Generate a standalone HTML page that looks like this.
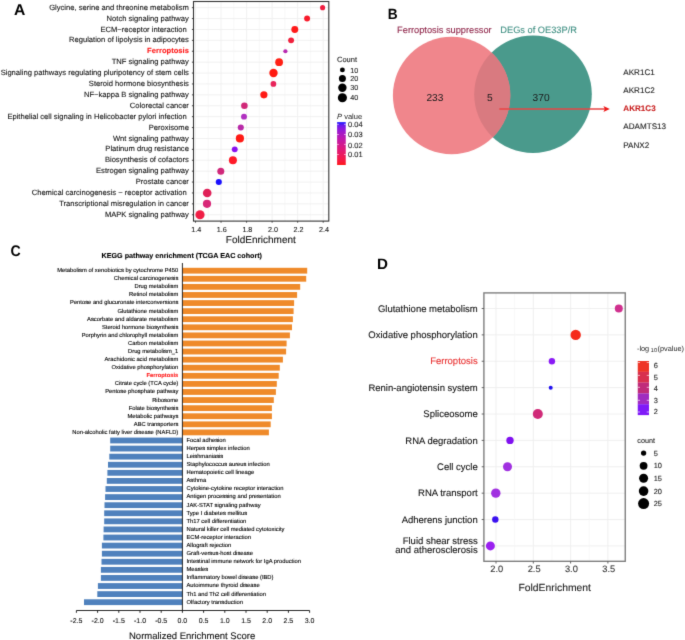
<!DOCTYPE html><html><head><meta charset="utf-8"><style>html,body{margin:0;padding:0;background:#fff;} svg{display:block;will-change:transform;} text{font-family:"Liberation Sans", sans-serif;text-rendering:geometricPrecision;}</style></head><body>
<svg width="685" height="640" viewBox="0 0 685 640">
<rect width="685" height="640" fill="#fff"/>
<defs><filter id="bl" x="0" y="0" width="685" height="640" filterUnits="userSpaceOnUse" color-interpolation-filters="sRGB"><feConvolveMatrix order="3" kernelMatrix="0.0113 0.0838 0.0113 0.0838 0.6193 0.0838 0.0113 0.0838 0.0113" edgeMode="duplicate" preserveAlpha="false"/></filter></defs><g filter="url(#bl)">
<g stroke="#EFEFEF" stroke-width="0.9">
<line x1="195.50" y1="1.5" x2="195.50" y2="221.1"/>
<line x1="221.04" y1="1.5" x2="221.04" y2="221.1"/>
<line x1="246.58" y1="1.5" x2="246.58" y2="221.1"/>
<line x1="272.12" y1="1.5" x2="272.12" y2="221.1"/>
<line x1="297.66" y1="1.5" x2="297.66" y2="221.1"/>
<line x1="323.20" y1="1.5" x2="323.20" y2="221.1"/>
</g><g stroke="#F4F4F4" stroke-width="0.6">
<line x1="208.27" y1="1.5" x2="208.27" y2="221.1"/>
<line x1="233.81" y1="1.5" x2="233.81" y2="221.1"/>
<line x1="259.35" y1="1.5" x2="259.35" y2="221.1"/>
<line x1="284.89" y1="1.5" x2="284.89" y2="221.1"/>
<line x1="310.43" y1="1.5" x2="310.43" y2="221.1"/>
</g><g stroke="#EFEFEF" stroke-width="0.9">
<line x1="193.5" y1="7.66" x2="328.8" y2="7.66"/>
<line x1="193.5" y1="18.56" x2="328.8" y2="18.56"/>
<line x1="193.5" y1="29.46" x2="328.8" y2="29.46"/>
<line x1="193.5" y1="40.36" x2="328.8" y2="40.36"/>
<line x1="193.5" y1="51.26" x2="328.8" y2="51.26"/>
<line x1="193.5" y1="62.16" x2="328.8" y2="62.16"/>
<line x1="193.5" y1="73.06" x2="328.8" y2="73.06"/>
<line x1="193.5" y1="83.96" x2="328.8" y2="83.96"/>
<line x1="193.5" y1="94.86" x2="328.8" y2="94.86"/>
<line x1="193.5" y1="105.76" x2="328.8" y2="105.76"/>
<line x1="193.5" y1="116.66" x2="328.8" y2="116.66"/>
<line x1="193.5" y1="127.56" x2="328.8" y2="127.56"/>
<line x1="193.5" y1="138.46" x2="328.8" y2="138.46"/>
<line x1="193.5" y1="149.36" x2="328.8" y2="149.36"/>
<line x1="193.5" y1="160.26" x2="328.8" y2="160.26"/>
<line x1="193.5" y1="171.16" x2="328.8" y2="171.16"/>
<line x1="193.5" y1="182.06" x2="328.8" y2="182.06"/>
<line x1="193.5" y1="192.96" x2="328.8" y2="192.96"/>
<line x1="193.5" y1="203.86" x2="328.8" y2="203.86"/>
<line x1="193.5" y1="214.76" x2="328.8" y2="214.76"/>
</g>
<circle cx="322.6" cy="7.66" r="2.55" fill="#F01E40"/>
<circle cx="307.1" cy="18.56" r="2.96" fill="#F81A2A"/>
<circle cx="294.8" cy="29.46" r="3.47" fill="#FF1A1A"/>
<circle cx="291.1" cy="40.36" r="2.96" fill="#F0203C"/>
<circle cx="285.4" cy="51.26" r="2.1" fill="#B828B0"/>
<circle cx="279.1" cy="62.16" r="3.9" fill="#FF2015"/>
<circle cx="273.5" cy="73.06" r="4.2" fill="#FF1A10"/>
<circle cx="273.4" cy="83.96" r="2.85" fill="#E8245A"/>
<circle cx="263.9" cy="94.86" r="3.6" fill="#FF1A15"/>
<circle cx="244.4" cy="105.76" r="3.28" fill="#D02878"/>
<circle cx="244.0" cy="116.66" r="2.95" fill="#B030C0"/>
<circle cx="240.8" cy="127.56" r="3.06" fill="#B82AA8"/>
<circle cx="239.9" cy="138.46" r="4.1" fill="#FF1A15"/>
<circle cx="234.75" cy="149.36" r="2.95" fill="#8A10F0"/>
<circle cx="232.9" cy="160.26" r="4.0" fill="#FF1A28"/>
<circle cx="220.8" cy="171.16" r="3.5" fill="#D0287A"/>
<circle cx="218.8" cy="182.06" r="3.05" fill="#1A10FF"/>
<circle cx="207.2" cy="192.96" r="4.3" fill="#E02058"/>
<circle cx="207.0" cy="203.86" r="4.1" fill="#D82878"/>
<circle cx="200.0" cy="214.76" r="4.6" fill="#F01E45"/>
<rect x="193.5" y="1.5" width="135.30" height="219.60" fill="none" stroke="#333" stroke-width="1.1"/>
<g stroke="#333" stroke-width="0.9">
<line x1="191.90" y1="7.66" x2="193.5" y2="7.66"/>
<line x1="191.90" y1="18.56" x2="193.5" y2="18.56"/>
<line x1="191.90" y1="29.46" x2="193.5" y2="29.46"/>
<line x1="191.90" y1="40.36" x2="193.5" y2="40.36"/>
<line x1="191.90" y1="51.26" x2="193.5" y2="51.26"/>
<line x1="191.90" y1="62.16" x2="193.5" y2="62.16"/>
<line x1="191.90" y1="73.06" x2="193.5" y2="73.06"/>
<line x1="191.90" y1="83.96" x2="193.5" y2="83.96"/>
<line x1="191.90" y1="94.86" x2="193.5" y2="94.86"/>
<line x1="191.90" y1="105.76" x2="193.5" y2="105.76"/>
<line x1="191.90" y1="116.66" x2="193.5" y2="116.66"/>
<line x1="191.90" y1="127.56" x2="193.5" y2="127.56"/>
<line x1="191.90" y1="138.46" x2="193.5" y2="138.46"/>
<line x1="191.90" y1="149.36" x2="193.5" y2="149.36"/>
<line x1="191.90" y1="160.26" x2="193.5" y2="160.26"/>
<line x1="191.90" y1="171.16" x2="193.5" y2="171.16"/>
<line x1="191.90" y1="182.06" x2="193.5" y2="182.06"/>
<line x1="191.90" y1="192.96" x2="193.5" y2="192.96"/>
<line x1="191.90" y1="203.86" x2="193.5" y2="203.86"/>
<line x1="191.90" y1="214.76" x2="193.5" y2="214.76"/>
<line x1="195.50" y1="221.1" x2="195.50" y2="222.7"/>
<line x1="221.04" y1="221.1" x2="221.04" y2="222.7"/>
<line x1="246.58" y1="221.1" x2="246.58" y2="222.7"/>
<line x1="272.12" y1="221.1" x2="272.12" y2="222.7"/>
<line x1="297.66" y1="221.1" x2="297.66" y2="222.7"/>
<line x1="323.20" y1="221.1" x2="323.20" y2="222.7"/>
</g>
<text x="188.90" y="9.76" font-size="7.6" text-anchor="end" fill="#111" font-weight="normal"  stroke="#111" stroke-width="0.1">Glycine, serine and threonine metabolism</text>
<text x="188.90" y="20.66" font-size="7.6" text-anchor="end" fill="#111" font-weight="normal"  stroke="#111" stroke-width="0.1">Notch signaling pathway</text>
<text x="186.80" y="31.56" font-size="7.6" text-anchor="end" fill="#111" font-weight="normal"  stroke="#111" stroke-width="0.1">ECM−receptor interaction</text>
<text x="188.90" y="42.46" font-size="7.6" text-anchor="end" fill="#111" font-weight="normal"  stroke="#111" stroke-width="0.1">Regulation of lipolysis in adipocytes</text>
<text x="188.90" y="53.36" font-size="7.6" text-anchor="end" fill="#FF1A1A" font-weight="bold"  stroke="#FF1A1A" stroke-width="0.1">Ferroptosis</text>
<text x="188.90" y="64.26" font-size="7.6" text-anchor="end" fill="#111" font-weight="normal"  stroke="#111" stroke-width="0.1">TNF signaling pathway</text>
<text x="188.90" y="75.16" font-size="7.6" text-anchor="end" fill="#111" font-weight="normal"  stroke="#111" stroke-width="0.1">Signaling pathways regulating pluripotency of stem cells</text>
<text x="188.90" y="86.06" font-size="7.6" text-anchor="end" fill="#111" font-weight="normal"  stroke="#111" stroke-width="0.1">Steroid hormone biosynthesis</text>
<text x="188.90" y="96.96" font-size="7.6" text-anchor="end" fill="#111" font-weight="normal"  stroke="#111" stroke-width="0.1">NF−kappa B signaling pathway</text>
<text x="188.90" y="107.86" font-size="7.6" text-anchor="end" fill="#111" font-weight="normal"  stroke="#111" stroke-width="0.1">Colorectal cancer</text>
<text x="186.80" y="118.76" font-size="7.6" text-anchor="end" fill="#111" font-weight="normal"  stroke="#111" stroke-width="0.1">Epithelial cell signaling in Helicobacter pylori infection</text>
<text x="188.90" y="129.66" font-size="7.6" text-anchor="end" fill="#111" font-weight="normal"  stroke="#111" stroke-width="0.1">Peroxisome</text>
<text x="188.90" y="140.56" font-size="7.6" text-anchor="end" fill="#111" font-weight="normal"  stroke="#111" stroke-width="0.1">Wnt signaling pathway</text>
<text x="188.90" y="151.46" font-size="7.6" text-anchor="end" fill="#111" font-weight="normal"  stroke="#111" stroke-width="0.1">Platinum drug resistance</text>
<text x="188.90" y="162.36" font-size="7.6" text-anchor="end" fill="#111" font-weight="normal"  stroke="#111" stroke-width="0.1">Biosynthesis of cofactors</text>
<text x="188.90" y="173.26" font-size="7.6" text-anchor="end" fill="#111" font-weight="normal"  stroke="#111" stroke-width="0.1">Estrogen signaling pathway</text>
<text x="188.90" y="184.16" font-size="7.6" text-anchor="end" fill="#111" font-weight="normal"  stroke="#111" stroke-width="0.1">Prostate cancer</text>
<text x="186.80" y="195.06" font-size="7.6" text-anchor="end" fill="#111" font-weight="normal"  stroke="#111" stroke-width="0.1">Chemical carcinogenesis − receptor activation</text>
<text x="188.90" y="205.96" font-size="7.6" text-anchor="end" fill="#111" font-weight="normal"  stroke="#111" stroke-width="0.1">Transcriptional misregulation in cancer</text>
<text x="188.90" y="216.86" font-size="7.6" text-anchor="end" fill="#111" font-weight="normal"  stroke="#111" stroke-width="0.1">MAPK signaling pathway</text>
<text x="196.30" y="231.50" font-size="7.2" text-anchor="middle" fill="#1a1a1a" font-weight="normal"  stroke="#1a1a1a" stroke-width="0.1">1.4</text>
<text x="221.84" y="231.50" font-size="7.2" text-anchor="middle" fill="#1a1a1a" font-weight="normal"  stroke="#1a1a1a" stroke-width="0.1">1.6</text>
<text x="247.38" y="231.50" font-size="7.2" text-anchor="middle" fill="#1a1a1a" font-weight="normal"  stroke="#1a1a1a" stroke-width="0.1">1.8</text>
<text x="272.92" y="231.50" font-size="7.2" text-anchor="middle" fill="#1a1a1a" font-weight="normal"  stroke="#1a1a1a" stroke-width="0.1">2.0</text>
<text x="298.46" y="231.50" font-size="7.2" text-anchor="middle" fill="#1a1a1a" font-weight="normal"  stroke="#1a1a1a" stroke-width="0.1">2.2</text>
<text x="324.00" y="231.50" font-size="7.2" text-anchor="middle" fill="#1a1a1a" font-weight="normal"  stroke="#1a1a1a" stroke-width="0.1">2.4</text>
<text x="260.80" y="242.70" font-size="10" text-anchor="middle" fill="#111" font-weight="normal"  stroke="#111" stroke-width="0.1">FoldEnrichment</text>
<text transform="translate(14.0,14.5) scale(1.12,1.105)" font-size="14" font-weight="bold" fill="#000">A</text>
<text x="337.00" y="62.20" font-size="7.5" text-anchor="start" fill="#222" font-weight="normal"  stroke="#222" stroke-width="0.1">Count</text>
<circle cx="342.4" cy="69.9" r="2.44" fill="#000"/>
<text x="350.20" y="72.50" font-size="7.2" text-anchor="start" fill="#222" font-weight="normal"  stroke="#222" stroke-width="0.1">10</text>
<circle cx="342.4" cy="78.6" r="3.5" fill="#000"/>
<text x="350.20" y="81.20" font-size="7.2" text-anchor="start" fill="#222" font-weight="normal"  stroke="#222" stroke-width="0.1">20</text>
<circle cx="342.4" cy="87.8" r="4.2" fill="#000"/>
<text x="350.20" y="90.40" font-size="7.2" text-anchor="start" fill="#222" font-weight="normal"  stroke="#222" stroke-width="0.1">30</text>
<circle cx="342.4" cy="97.8" r="4.55" fill="#000"/>
<text x="350.20" y="100.40" font-size="7.2" text-anchor="start" fill="#222" font-weight="normal"  stroke="#222" stroke-width="0.1">40</text>
<text x="337.1" y="118.5" font-size="7.5" fill="#222"><tspan font-style="italic">P</tspan> value</text>
<defs><linearGradient id="gA" x1="0" y1="0" x2="0" y2="1"><stop offset="0.000" stop-color="#1919FE"/><stop offset="0.083" stop-color="#6F19EC"/><stop offset="0.167" stop-color="#8E19DA"/><stop offset="0.250" stop-color="#A419C8"/><stop offset="0.333" stop-color="#B519B6"/><stop offset="0.417" stop-color="#C319A5"/><stop offset="0.500" stop-color="#CE1994"/><stop offset="0.583" stop-color="#D91983"/><stop offset="0.667" stop-color="#E21972"/><stop offset="0.750" stop-color="#EA1961"/><stop offset="0.833" stop-color="#F1194F"/><stop offset="0.917" stop-color="#F8193B"/><stop offset="1.000" stop-color="#FE1919"/></linearGradient></defs>
<rect x="337.1" y="122.1" width="8.65" height="42.9" fill="url(#gA)"/>
<g stroke="#fff" stroke-width="0.7" opacity="0.9">
<line x1="337.1" y1="124.3" x2="338.8" y2="124.3"/><line x1="344.05" y1="124.3" x2="345.75" y2="124.3"/>
<line x1="337.1" y1="134.5" x2="338.8" y2="134.5"/><line x1="344.05" y1="134.5" x2="345.75" y2="134.5"/>
<line x1="337.1" y1="144.4" x2="338.8" y2="144.4"/><line x1="344.05" y1="144.4" x2="345.75" y2="144.4"/>
<line x1="337.1" y1="154.5" x2="338.8" y2="154.5"/><line x1="344.05" y1="154.5" x2="345.75" y2="154.5"/>
</g>
<text x="348.10" y="127.20" font-size="7.5" text-anchor="start" fill="#222" font-weight="normal"  stroke="#222" stroke-width="0.1">0.04</text>
<text x="348.10" y="137.30" font-size="7.5" text-anchor="start" fill="#222" font-weight="normal"  stroke="#222" stroke-width="0.1">0.03</text>
<text x="348.10" y="147.50" font-size="7.5" text-anchor="start" fill="#222" font-weight="normal"  stroke="#222" stroke-width="0.1">0.02</text>
<text x="348.10" y="157.30" font-size="7.5" text-anchor="start" fill="#222" font-weight="normal"  stroke="#222" stroke-width="0.1">0.01</text>
<text transform="translate(387.8,19.2) scale(0.98,1.06)" font-size="14" font-weight="bold" fill="#000">B</text>
<defs><clipPath id="cR"><circle cx="533.0" cy="94.3" r="58.8"/></clipPath></defs>
<circle cx="533.0" cy="94.3" r="58.8" fill="#4A9A8C"/>
<circle cx="451.6" cy="95.5" r="58.7" fill="#F0868C"/>
<circle cx="451.6" cy="95.5" r="58.7" fill="#D97A80" clip-path="url(#cR)"/>
<text x="397.10" y="32.50" font-size="9.25" text-anchor="start" fill="#8E2448" font-weight="normal"  stroke="#8E2448" stroke-width="0.1">Ferroptosis suppressor</text>
<text x="500.30" y="32.60" font-size="9.25" text-anchor="start" fill="#3F8F82" font-weight="normal"  stroke="#3F8F82" stroke-width="0.1">DEGs of OE33P/R</text>
<text x="434.90" y="100.90" font-size="10.2" text-anchor="middle" fill="#1a1a1a" font-weight="normal"  >233</text>
<text x="489.80" y="101.30" font-size="10.2" text-anchor="middle" fill="#1a1a1a" font-weight="normal"  >5</text>
<text x="541.10" y="101.30" font-size="10.2" text-anchor="middle" fill="#1a1a1a" font-weight="normal"  >370</text>
<line x1="499.3" y1="109" x2="605" y2="109" stroke="#E84444" stroke-width="1.6"/>
<path d="M609.8,109 L603.4,106.0 L604.9,109 L603.4,112.0 Z" fill="#EE1818"/>
<text x="623.30" y="74.70" font-size="8.1" text-anchor="start" fill="#222" font-weight="normal"  stroke="#222" stroke-width="0.1">AKR1C1</text>
<text x="623.30" y="92.90" font-size="8.1" text-anchor="start" fill="#222" font-weight="normal"  stroke="#222" stroke-width="0.1">AKR1C2</text>
<text x="623.30" y="111.10" font-size="8.1" text-anchor="start" fill="#C81E1E" font-weight="bold"  stroke="#C81E1E" stroke-width="0.1">AKR1C3</text>
<text x="623.30" y="129.30" font-size="8.1" text-anchor="start" fill="#222" font-weight="normal"  stroke="#222" stroke-width="0.1">ADAMTS13</text>
<text x="623.30" y="147.50" font-size="8.1" text-anchor="start" fill="#222" font-weight="normal"  stroke="#222" stroke-width="0.1">PANX2</text>
<text transform="translate(10.4,255.6) scale(1.01,1.09)" font-size="14" font-weight="bold" fill="#000">C</text>
<text x="101.60" y="257.70" font-size="7.17" text-anchor="start" fill="#000" font-weight="bold"  stroke="#000" stroke-width="0.12">KEGG pathway enrichment (TCGA EAC cohort)</text>
<rect x="182.40" y="267.80" width="124.80" height="5.8" fill="#EF8A2A"/>
<text x="178.30" y="272.15" font-size="5.8" text-anchor="end" fill="#000" font-weight="normal"  stroke="#000" stroke-width="0.12">Metabolism of xenobiotics by cytochrome P450</text>
<rect x="182.40" y="275.88" width="123.80" height="5.8" fill="#EF8A2A"/>
<text x="178.30" y="280.24" font-size="5.8" text-anchor="end" fill="#000" font-weight="normal"  stroke="#000" stroke-width="0.12">Chemical carcinogenesis</text>
<rect x="182.40" y="283.97" width="117.80" height="5.8" fill="#EF8A2A"/>
<text x="178.30" y="288.32" font-size="5.8" text-anchor="end" fill="#000" font-weight="normal"  stroke="#000" stroke-width="0.12">Drug metabolism</text>
<rect x="182.40" y="292.06" width="114.70" height="5.8" fill="#EF8A2A"/>
<text x="178.30" y="296.41" font-size="5.8" text-anchor="end" fill="#000" font-weight="normal"  stroke="#000" stroke-width="0.12">Retinol metabolism</text>
<rect x="182.40" y="300.14" width="111.70" height="5.8" fill="#EF8A2A"/>
<text x="178.30" y="304.49" font-size="5.8" text-anchor="end" fill="#000" font-weight="normal"  stroke="#000" stroke-width="0.12">Pentose and glucuronate interconversions</text>
<rect x="182.40" y="308.23" width="111.20" height="5.8" fill="#EF8A2A"/>
<text x="178.30" y="312.58" font-size="5.8" text-anchor="end" fill="#000" font-weight="normal"  stroke="#000" stroke-width="0.12">Glutathione metabolism</text>
<rect x="182.40" y="316.31" width="110.50" height="5.8" fill="#EF8A2A"/>
<text x="178.30" y="320.66" font-size="5.8" text-anchor="end" fill="#000" font-weight="normal"  stroke="#000" stroke-width="0.12">Ascorbate and aldarate metabolism</text>
<rect x="182.40" y="324.40" width="109.60" height="5.8" fill="#EF8A2A"/>
<text x="178.30" y="328.75" font-size="5.8" text-anchor="end" fill="#000" font-weight="normal"  stroke="#000" stroke-width="0.12">Steroid hormone biosynthesis</text>
<rect x="182.40" y="332.48" width="107.50" height="5.8" fill="#EF8A2A"/>
<text x="178.30" y="336.83" font-size="5.8" text-anchor="end" fill="#000" font-weight="normal"  stroke="#000" stroke-width="0.12">Porphyrin and chlorophyll metabolism</text>
<rect x="182.40" y="340.57" width="104.20" height="5.8" fill="#EF8A2A"/>
<text x="178.30" y="344.92" font-size="5.8" text-anchor="end" fill="#000" font-weight="normal"  stroke="#000" stroke-width="0.12">Carbon metabolism</text>
<rect x="182.40" y="348.65" width="103.70" height="5.8" fill="#EF8A2A"/>
<text x="178.30" y="353.00" font-size="5.8" text-anchor="end" fill="#000" font-weight="normal"  stroke="#000" stroke-width="0.12">Drug metabolism_1</text>
<rect x="182.40" y="356.74" width="100.50" height="5.8" fill="#EF8A2A"/>
<text x="178.30" y="361.09" font-size="5.8" text-anchor="end" fill="#000" font-weight="normal"  stroke="#000" stroke-width="0.12">Arachidonic acid metabolism</text>
<rect x="182.40" y="364.82" width="97.40" height="5.8" fill="#EF8A2A"/>
<text x="178.30" y="369.17" font-size="5.8" text-anchor="end" fill="#000" font-weight="normal"  stroke="#000" stroke-width="0.12">Oxidative phosphorylation</text>
<rect x="182.40" y="372.91" width="96.30" height="5.8" fill="#EF8A2A"/>
<text x="178.30" y="377.26" font-size="5.8" text-anchor="end" fill="#FF1A1A" font-weight="bold"  stroke="#FF1A1A" stroke-width="0.1">Ferroptosis</text>
<rect x="182.40" y="380.99" width="94.40" height="5.8" fill="#EF8A2A"/>
<text x="178.30" y="385.34" font-size="5.8" text-anchor="end" fill="#000" font-weight="normal"  stroke="#000" stroke-width="0.12">Citrate cycle (TCA cycle)</text>
<rect x="182.40" y="389.08" width="93.50" height="5.8" fill="#EF8A2A"/>
<text x="178.30" y="393.43" font-size="5.8" text-anchor="end" fill="#000" font-weight="normal"  stroke="#000" stroke-width="0.12">Pentose phosphate pathway</text>
<rect x="182.40" y="397.16" width="91.40" height="5.8" fill="#EF8A2A"/>
<text x="178.30" y="401.51" font-size="5.8" text-anchor="end" fill="#000" font-weight="normal"  stroke="#000" stroke-width="0.12">Ribosome</text>
<rect x="182.40" y="405.25" width="89.50" height="5.8" fill="#EF8A2A"/>
<text x="178.30" y="409.60" font-size="5.8" text-anchor="end" fill="#000" font-weight="normal"  stroke="#000" stroke-width="0.12">Folate biosynthesis</text>
<rect x="182.40" y="413.33" width="89.50" height="5.8" fill="#EF8A2A"/>
<text x="178.30" y="417.68" font-size="5.8" text-anchor="end" fill="#000" font-weight="normal"  stroke="#000" stroke-width="0.12">Metabolic pathways</text>
<rect x="182.40" y="421.42" width="88.30" height="5.8" fill="#EF8A2A"/>
<text x="178.30" y="425.77" font-size="5.8" text-anchor="end" fill="#000" font-weight="normal"  stroke="#000" stroke-width="0.12">ABC transporters</text>
<rect x="182.40" y="429.50" width="86.50" height="5.8" fill="#EF8A2A"/>
<text x="178.30" y="433.85" font-size="5.8" text-anchor="end" fill="#000" font-weight="normal"  stroke="#000" stroke-width="0.12">Non-alcoholic fatty liver disease (NAFLD)</text>
<rect x="110.20" y="437.59" width="72.20" height="5.8" fill="#4F81BD"/>
<text x="186.50" y="441.89" font-size="5.8" text-anchor="start" fill="#000" font-weight="normal"  stroke="#000" stroke-width="0.12">Focal adhesion</text>
<rect x="110.20" y="445.67" width="72.20" height="5.8" fill="#4F81BD"/>
<text x="186.50" y="449.97" font-size="5.8" text-anchor="start" fill="#000" font-weight="normal"  stroke="#000" stroke-width="0.12">Herpes simplex infection</text>
<rect x="109.30" y="453.75" width="73.10" height="5.8" fill="#4F81BD"/>
<text x="186.50" y="458.06" font-size="5.8" text-anchor="start" fill="#000" font-weight="normal"  stroke="#000" stroke-width="0.12">Leishmaniasis</text>
<rect x="108.00" y="461.84" width="74.40" height="5.8" fill="#4F81BD"/>
<text x="186.50" y="466.14" font-size="5.8" text-anchor="start" fill="#000" font-weight="normal"  stroke="#000" stroke-width="0.12">Staphylococcus aureus infection</text>
<rect x="107.40" y="469.93" width="75.00" height="5.8" fill="#4F81BD"/>
<text x="186.50" y="474.23" font-size="5.8" text-anchor="start" fill="#000" font-weight="normal"  stroke="#000" stroke-width="0.12">Hematopoietic cell lineage</text>
<rect x="106.80" y="478.01" width="75.60" height="5.8" fill="#4F81BD"/>
<text x="186.50" y="482.31" font-size="5.8" text-anchor="start" fill="#000" font-weight="normal"  stroke="#000" stroke-width="0.12">Asthma</text>
<rect x="105.50" y="486.10" width="76.90" height="5.8" fill="#4F81BD"/>
<text x="186.50" y="490.40" font-size="5.8" text-anchor="start" fill="#000" font-weight="normal"  stroke="#000" stroke-width="0.12">Cytokine-cytokine receptor interaction</text>
<rect x="105.10" y="494.18" width="77.30" height="5.8" fill="#4F81BD"/>
<text x="186.50" y="498.48" font-size="5.8" text-anchor="start" fill="#000" font-weight="normal"  stroke="#000" stroke-width="0.12">Antigen processing and presentation</text>
<rect x="104.50" y="502.27" width="77.90" height="5.8" fill="#4F81BD"/>
<text x="186.50" y="506.57" font-size="5.8" text-anchor="start" fill="#000" font-weight="normal"  stroke="#000" stroke-width="0.12">JAK-STAT signaling pathway</text>
<rect x="104.20" y="510.35" width="78.20" height="5.8" fill="#4F81BD"/>
<text x="186.50" y="514.65" font-size="5.8" text-anchor="start" fill="#000" font-weight="normal"  stroke="#000" stroke-width="0.12">Type I diabetes mellitus</text>
<rect x="104.20" y="518.44" width="78.20" height="5.8" fill="#4F81BD"/>
<text x="186.50" y="522.74" font-size="5.8" text-anchor="start" fill="#000" font-weight="normal"  stroke="#000" stroke-width="0.12">Th17 cell differentiation</text>
<rect x="103.60" y="526.52" width="78.80" height="5.8" fill="#4F81BD"/>
<text x="186.50" y="530.82" font-size="5.8" text-anchor="start" fill="#000" font-weight="normal"  stroke="#000" stroke-width="0.12">Natural killer cell mediated cytotoxicity</text>
<rect x="103.40" y="534.61" width="79.00" height="5.8" fill="#4F81BD"/>
<text x="186.50" y="538.90" font-size="5.8" text-anchor="start" fill="#000" font-weight="normal"  stroke="#000" stroke-width="0.12">ECM-receptor interaction</text>
<rect x="101.90" y="542.69" width="80.50" height="5.8" fill="#4F81BD"/>
<text x="186.50" y="546.99" font-size="5.8" text-anchor="start" fill="#000" font-weight="normal"  stroke="#000" stroke-width="0.12">Allograft rejection</text>
<rect x="101.90" y="550.78" width="80.50" height="5.8" fill="#4F81BD"/>
<text x="186.50" y="555.08" font-size="5.8" text-anchor="start" fill="#000" font-weight="normal"  stroke="#000" stroke-width="0.12">Graft-versus-host disease</text>
<rect x="101.50" y="558.86" width="80.90" height="5.8" fill="#4F81BD"/>
<text x="186.50" y="563.16" font-size="5.8" text-anchor="start" fill="#000" font-weight="normal"  stroke="#000" stroke-width="0.12">Intestinal immune network for IgA production</text>
<rect x="100.90" y="566.95" width="81.50" height="5.8" fill="#4F81BD"/>
<text x="186.50" y="571.25" font-size="5.8" text-anchor="start" fill="#000" font-weight="normal"  stroke="#000" stroke-width="0.12">Measles</text>
<rect x="100.90" y="575.03" width="81.50" height="5.8" fill="#4F81BD"/>
<text x="186.50" y="579.33" font-size="5.8" text-anchor="start" fill="#000" font-weight="normal"  stroke="#000" stroke-width="0.12">Inflammatory bowel disease (IBD)</text>
<rect x="97.90" y="583.12" width="84.50" height="5.8" fill="#4F81BD"/>
<text x="186.50" y="587.41" font-size="5.8" text-anchor="start" fill="#000" font-weight="normal"  stroke="#000" stroke-width="0.12">Autoimmune thyroid disease</text>
<rect x="97.30" y="591.20" width="85.10" height="5.8" fill="#4F81BD"/>
<text x="186.50" y="595.50" font-size="5.8" text-anchor="start" fill="#000" font-weight="normal"  stroke="#000" stroke-width="0.12">Th1 and Th2 cell differentiation</text>
<rect x="84.00" y="599.29" width="98.40" height="5.8" fill="#4F81BD"/>
<text x="186.50" y="603.59" font-size="5.8" text-anchor="start" fill="#000" font-weight="normal"  stroke="#000" stroke-width="0.12">Olfactory transduction</text>
<line x1="182.4" y1="263" x2="182.4" y2="610.5" stroke="#111" stroke-width="0.9"/>
<line x1="76.40" y1="610.5" x2="309.60" y2="610.5" stroke="#111" stroke-width="0.9"/>
<line x1="76.40" y1="610.5" x2="76.40" y2="612.8" stroke="#111" stroke-width="0.9"/>
<text x="76.40" y="622.60" font-size="7.0" text-anchor="middle" fill="#111" font-weight="normal"  stroke="#111" stroke-width="0.1">-2.5</text>
<line x1="97.60" y1="610.5" x2="97.60" y2="612.8" stroke="#111" stroke-width="0.9"/>
<text x="97.60" y="622.60" font-size="7.0" text-anchor="middle" fill="#111" font-weight="normal"  stroke="#111" stroke-width="0.1">-2.0</text>
<line x1="118.80" y1="610.5" x2="118.80" y2="612.8" stroke="#111" stroke-width="0.9"/>
<text x="118.80" y="622.60" font-size="7.0" text-anchor="middle" fill="#111" font-weight="normal"  stroke="#111" stroke-width="0.1">-1.5</text>
<line x1="140.00" y1="610.5" x2="140.00" y2="612.8" stroke="#111" stroke-width="0.9"/>
<text x="140.00" y="622.60" font-size="7.0" text-anchor="middle" fill="#111" font-weight="normal"  stroke="#111" stroke-width="0.1">-1.0</text>
<line x1="161.20" y1="610.5" x2="161.20" y2="612.8" stroke="#111" stroke-width="0.9"/>
<text x="161.20" y="622.60" font-size="7.0" text-anchor="middle" fill="#111" font-weight="normal"  stroke="#111" stroke-width="0.1">-0.5</text>
<line x1="182.40" y1="610.5" x2="182.40" y2="612.8" stroke="#111" stroke-width="0.9"/>
<text x="182.40" y="622.60" font-size="7.0" text-anchor="middle" fill="#111" font-weight="normal"  stroke="#111" stroke-width="0.1">0.0</text>
<line x1="203.60" y1="610.5" x2="203.60" y2="612.8" stroke="#111" stroke-width="0.9"/>
<text x="203.60" y="622.60" font-size="7.0" text-anchor="middle" fill="#111" font-weight="normal"  stroke="#111" stroke-width="0.1">0.5</text>
<line x1="224.80" y1="610.5" x2="224.80" y2="612.8" stroke="#111" stroke-width="0.9"/>
<text x="224.80" y="622.60" font-size="7.0" text-anchor="middle" fill="#111" font-weight="normal"  stroke="#111" stroke-width="0.1">1.0</text>
<line x1="246.00" y1="610.5" x2="246.00" y2="612.8" stroke="#111" stroke-width="0.9"/>
<text x="246.00" y="622.60" font-size="7.0" text-anchor="middle" fill="#111" font-weight="normal"  stroke="#111" stroke-width="0.1">1.5</text>
<line x1="267.20" y1="610.5" x2="267.20" y2="612.8" stroke="#111" stroke-width="0.9"/>
<text x="267.20" y="622.60" font-size="7.0" text-anchor="middle" fill="#111" font-weight="normal"  stroke="#111" stroke-width="0.1">2.0</text>
<line x1="288.40" y1="610.5" x2="288.40" y2="612.8" stroke="#111" stroke-width="0.9"/>
<text x="288.40" y="622.60" font-size="7.0" text-anchor="middle" fill="#111" font-weight="normal"  stroke="#111" stroke-width="0.1">2.5</text>
<line x1="309.60" y1="610.5" x2="309.60" y2="612.8" stroke="#111" stroke-width="0.9"/>
<text x="309.60" y="622.60" font-size="7.0" text-anchor="middle" fill="#111" font-weight="normal"  stroke="#111" stroke-width="0.1">3.0</text>
<text x="192.10" y="638.80" font-size="9.5" text-anchor="middle" fill="#111" font-weight="normal"  stroke="#111" stroke-width="0.1">Normalized Enrichment Score</text>
<text transform="translate(376.9,269.4) scale(1.085,1.07)" font-size="14" font-weight="bold" fill="#000">D</text>
<g stroke="#EDEDED" stroke-width="0.9">
<line x1="496.00" y1="292.9" x2="496.00" y2="561.3"/>
<line x1="533.30" y1="292.9" x2="533.30" y2="561.3"/>
<line x1="570.60" y1="292.9" x2="570.60" y2="561.3"/>
<line x1="607.90" y1="292.9" x2="607.90" y2="561.3"/>
<line x1="483.9" y1="308.50" x2="625.25" y2="308.50"/>
<line x1="483.9" y1="334.88" x2="625.25" y2="334.88"/>
<line x1="483.9" y1="361.26" x2="625.25" y2="361.26"/>
<line x1="483.9" y1="387.64" x2="625.25" y2="387.64"/>
<line x1="483.9" y1="414.02" x2="625.25" y2="414.02"/>
<line x1="483.9" y1="440.40" x2="625.25" y2="440.40"/>
<line x1="483.9" y1="466.78" x2="625.25" y2="466.78"/>
<line x1="483.9" y1="493.16" x2="625.25" y2="493.16"/>
<line x1="483.9" y1="519.54" x2="625.25" y2="519.54"/>
<line x1="483.9" y1="545.92" x2="625.25" y2="545.92"/>
</g><g stroke="#F3F3F3" stroke-width="0.6">
<line x1="514.65" y1="292.9" x2="514.65" y2="561.3"/>
<line x1="551.95" y1="292.9" x2="551.95" y2="561.3"/>
<line x1="589.25" y1="292.9" x2="589.25" y2="561.3"/>
</g>
<circle cx="618.8" cy="308.50" r="4.0" fill="#D0308E"/>
<text x="477.70" y="311.70" font-size="9.5" text-anchor="end" fill="#111" font-weight="normal"  stroke="#111" stroke-width="0.1">Glutathione metabolism</text>
<circle cx="575.7" cy="334.88" r="5.2" fill="#F52A1A"/>
<text x="477.70" y="338.08" font-size="9.5" text-anchor="end" fill="#111" font-weight="normal"  stroke="#111" stroke-width="0.1">Oxidative phosphorylation</text>
<circle cx="551.9" cy="361.26" r="3.2" fill="#8A1AF5"/>
<text x="477.70" y="364.46" font-size="9.5" text-anchor="end" fill="#E83030" font-weight="normal"  stroke="#E83030" stroke-width="0.1">Ferroptosis</text>
<circle cx="550.7" cy="387.64" r="2.0" fill="#2010F0"/>
<text x="477.70" y="390.84" font-size="9.5" text-anchor="end" fill="#111" font-weight="normal"  stroke="#111" stroke-width="0.1">Renin-angiotensin system</text>
<circle cx="537.8" cy="414.02" r="5.0" fill="#D02A78"/>
<text x="477.70" y="417.22" font-size="9.5" text-anchor="end" fill="#111" font-weight="normal"  stroke="#111" stroke-width="0.1">Spliceosome</text>
<circle cx="510.0" cy="440.40" r="3.7" fill="#8010F0"/>
<text x="477.70" y="443.60" font-size="9.5" text-anchor="end" fill="#111" font-weight="normal"  stroke="#111" stroke-width="0.1">RNA degradation</text>
<circle cx="507.5" cy="466.78" r="4.5" fill="#A030E0"/>
<text x="477.70" y="469.98" font-size="9.5" text-anchor="end" fill="#111" font-weight="normal"  stroke="#111" stroke-width="0.1">Cell cycle</text>
<circle cx="495.8" cy="493.16" r="4.7" fill="#A030E0"/>
<text x="477.70" y="496.36" font-size="9.5" text-anchor="end" fill="#111" font-weight="normal"  stroke="#111" stroke-width="0.1">RNA transport</text>
<circle cx="495.3" cy="519.54" r="3.2" fill="#3A10F0"/>
<text x="477.70" y="522.74" font-size="9.5" text-anchor="end" fill="#111" font-weight="normal"  stroke="#111" stroke-width="0.1">Adherens junction</text>
<circle cx="490.4" cy="545.92" r="4.5" fill="#9A20F0"/>
<text x="477.70" y="544.00" font-size="9.5" text-anchor="end" fill="#111" font-weight="normal"  stroke="#111" stroke-width="0.1">Fluid shear stress</text>
<text x="477.70" y="552.70" font-size="9.5" text-anchor="end" fill="#111" font-weight="normal"  stroke="#111" stroke-width="0.1">and atherosclerosis</text>
<rect x="483.9" y="292.9" width="141.35" height="268.40" fill="none" stroke="#7a7a7a" stroke-width="1.35"/>
<g stroke="#555" stroke-width="0.9">
<line x1="481.70" y1="308.50" x2="483.9" y2="308.50"/>
<line x1="481.70" y1="334.88" x2="483.9" y2="334.88"/>
<line x1="481.70" y1="361.26" x2="483.9" y2="361.26"/>
<line x1="481.70" y1="387.64" x2="483.9" y2="387.64"/>
<line x1="481.70" y1="414.02" x2="483.9" y2="414.02"/>
<line x1="481.70" y1="440.40" x2="483.9" y2="440.40"/>
<line x1="481.70" y1="466.78" x2="483.9" y2="466.78"/>
<line x1="481.70" y1="493.16" x2="483.9" y2="493.16"/>
<line x1="481.70" y1="519.54" x2="483.9" y2="519.54"/>
<line x1="481.70" y1="545.92" x2="483.9" y2="545.92"/>
<line x1="496.00" y1="561.3" x2="496.00" y2="563.5"/>
<line x1="533.30" y1="561.3" x2="533.30" y2="563.5"/>
<line x1="570.60" y1="561.3" x2="570.60" y2="563.5"/>
<line x1="607.90" y1="561.3" x2="607.90" y2="563.5"/>
</g>
<text x="496.80" y="572.00" font-size="9.3" text-anchor="middle" fill="#333" font-weight="normal"  stroke="#333" stroke-width="0.1">2.0</text>
<text x="534.10" y="572.00" font-size="9.3" text-anchor="middle" fill="#333" font-weight="normal"  stroke="#333" stroke-width="0.1">2.5</text>
<text x="571.40" y="572.00" font-size="9.3" text-anchor="middle" fill="#333" font-weight="normal"  stroke="#333" stroke-width="0.1">3.0</text>
<text x="608.70" y="572.00" font-size="9.3" text-anchor="middle" fill="#333" font-weight="normal"  stroke="#333" stroke-width="0.1">3.5</text>
<text x="554.70" y="590.60" font-size="10.35" text-anchor="middle" fill="#1a1a1a" font-weight="normal"  stroke="#1a1a1a" stroke-width="0.1">FoldEnrichment</text>
<text x="637.0" y="351" font-size="7.3" fill="#1c1c1c">-log<tspan font-size="5.6" dy="1.2" dx="1.6">10</tspan><tspan dy="-1.2" dx="0.6">(pvalue)</tspan></text>
<rect x="637.75" y="361.00" width="11.25" height="10.9" fill="#EE3526"/>
<rect x="637.75" y="371.80" width="11.25" height="10.9" fill="#D8304E"/>
<rect x="637.75" y="382.60" width="11.25" height="10.9" fill="#C02C7A"/>
<rect x="637.75" y="393.40" width="11.25" height="10.9" fill="#A02CC0"/>
<rect x="637.75" y="404.20" width="11.25" height="10.9" fill="#7F1AF8"/>
<g stroke="#fff" stroke-width="0.7" opacity="0.9">
<line x1="637.75" y1="362.5" x2="640" y2="362.5"/><line x1="646.75" y1="362.5" x2="649" y2="362.5"/>
<line x1="637.75" y1="375.4" x2="640" y2="375.4"/><line x1="646.75" y1="375.4" x2="649" y2="375.4"/>
<line x1="637.75" y1="387.3" x2="640" y2="387.3"/><line x1="646.75" y1="387.3" x2="649" y2="387.3"/>
<line x1="637.75" y1="400.3" x2="640" y2="400.3"/><line x1="646.75" y1="400.3" x2="649" y2="400.3"/>
<line x1="637.75" y1="412" x2="640" y2="412"/><line x1="646.75" y1="412" x2="649" y2="412"/>
</g>
<text x="653.75" y="367.60" font-size="7.4" text-anchor="start" fill="#1c1c1c" font-weight="normal"  stroke="#1c1c1c" stroke-width="0.1">6</text>
<text x="653.75" y="379.50" font-size="7.4" text-anchor="start" fill="#1c1c1c" font-weight="normal"  stroke="#1c1c1c" stroke-width="0.1">5</text>
<text x="653.75" y="391.10" font-size="7.4" text-anchor="start" fill="#1c1c1c" font-weight="normal"  stroke="#1c1c1c" stroke-width="0.1">4</text>
<text x="653.75" y="402.60" font-size="7.4" text-anchor="start" fill="#1c1c1c" font-weight="normal"  stroke="#1c1c1c" stroke-width="0.1">3</text>
<text x="653.75" y="414.10" font-size="7.4" text-anchor="start" fill="#1c1c1c" font-weight="normal"  stroke="#1c1c1c" stroke-width="0.1">2</text>
<text x="637.30" y="442.70" font-size="7.2" text-anchor="start" fill="#222" font-weight="normal"  stroke="#222" stroke-width="0.1">count</text>
<circle cx="643.6" cy="453.1" r="2.65" fill="#000"/>
<text x="653.75" y="455.70" font-size="7.4" text-anchor="start" fill="#1c1c1c" font-weight="normal"  stroke="#1c1c1c" stroke-width="0.1">5</text>
<circle cx="643.6" cy="465.8" r="3.9" fill="#000"/>
<text x="653.75" y="468.40" font-size="7.4" text-anchor="start" fill="#1c1c1c" font-weight="normal"  stroke="#1c1c1c" stroke-width="0.1">10</text>
<circle cx="643.6" cy="478.3" r="4.5" fill="#000"/>
<text x="653.75" y="480.90" font-size="7.4" text-anchor="start" fill="#1c1c1c" font-weight="normal"  stroke="#1c1c1c" stroke-width="0.1">15</text>
<circle cx="643.6" cy="491.1" r="4.8" fill="#000"/>
<text x="653.75" y="493.70" font-size="7.4" text-anchor="start" fill="#1c1c1c" font-weight="normal"  stroke="#1c1c1c" stroke-width="0.1">20</text>
<circle cx="643.6" cy="503.6" r="5.5" fill="#000"/>
<text x="653.75" y="506.20" font-size="7.4" text-anchor="start" fill="#1c1c1c" font-weight="normal"  stroke="#1c1c1c" stroke-width="0.1">25</text>
</g>
</svg></body></html>
